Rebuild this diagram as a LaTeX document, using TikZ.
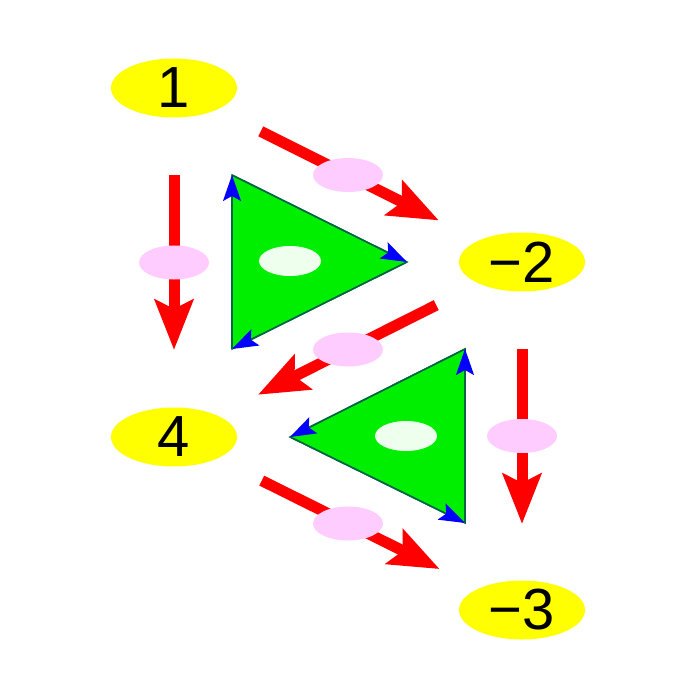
\documentclass[tikz,border=0pt]{standalone}
\usepackage{fontspec}
\setmainfont{Liberation Sans}
\usetikzlibrary{arrows.meta,shapes.geometric}
\definecolor{nodeyellow}{HTML}{FFFF00}
\definecolor{pinklab}{HTML}{FFCCFF}
\definecolor{trigreen}{HTML}{00EE00}
\definecolor{triedge}{HTML}{006644}
\definecolor{paleell}{HTML}{EEFFEE}
\tikzset{
  numnode/.style={ellipse, fill=nodeyellow, minimum width=126pt, minimum height=59pt, inner sep=0pt, font=\fontsize{58}{58}\selectfont},
  pinkell/.style={ellipse, fill=pinklab, minimum width=70pt, minimum height=34pt, inner sep=0pt},
  paleellnode/.style={ellipse, fill=paleell, minimum width=62pt, minimum height=30pt, inner sep=0pt},
  redarrow/.style={draw=red, line width=11pt, -{Stealth[length=50pt, width=38pt, inset=9pt, fill=red]}},
  triface/.style={fill=trigreen, draw=triedge, line width=1.5pt, line join=miter},
  bluetip/.style={draw=triedge, line width=1.5pt, -{Stealth[length=26pt, width=18pt, inset=5pt, blue, fill=blue]}},
}
\begin{document}
\begin{tikzpicture}[x=1pt,y=-1pt]
\useasboundingbox (0,0) rectangle (700,700);
% number nodes
\node[numnode] (n1) at (174,88) {1};
\node[numnode] (n2) at (522,262) {−2};
\node[numnode] (n4) at (174,437) {4};
\node[numnode] (n3) at (522,610) {−3};
% triangle 1
\coordinate (a1) at (232,175);
\coordinate (a2) at (407,262);
\coordinate (a3) at (232,349);
\fill[triface] (a1) -- (a2) -- (a3) -- cycle;
\draw[bluetip] (a1) -- (a2);
\draw[bluetip] (a2) -- (a3);
\draw[bluetip] (a3) -- (a1);
\node[paleellnode] (e1) at (290,261) {};
% triangle 2
\coordinate (b1) at (465,349);
\coordinate (b2) at (290,437);
\coordinate (b3) at (465,523);
\fill[triface] (b1) -- (b2) -- (b3) -- cycle;
\draw[bluetip] (b1) -- (b2);
\draw[bluetip] (b2) -- (b3);
\draw[bluetip] (b3) -- (b1);
\node[paleellnode] (e2) at (406,436) {};
% red arrows
\draw[redarrow, shorten <=97pt, shorten >=93pt] (n1.center) -- (n2.center) node[pinkell, midway] (p12) {};
\draw[redarrow, shorten <=87pt, shorten >=87pt] (n1.center) -- (n4.center) node[pinkell, midway] (p14) {};
\draw[redarrow, shorten <=96pt, shorten >=94pt] (n2.center) -- (n4.center) node[pinkell, midway] (p24) {};
\draw[redarrow, shorten <=87pt, shorten >=86pt] (n2.center) -- (n3.center) node[pinkell, midway] (p23) {};
\draw[redarrow, shorten <=98pt, shorten >=92pt] (n4.center) -- (n3.center) node[pinkell, midway] (p43) {};
\end{tikzpicture}
\end{document}
